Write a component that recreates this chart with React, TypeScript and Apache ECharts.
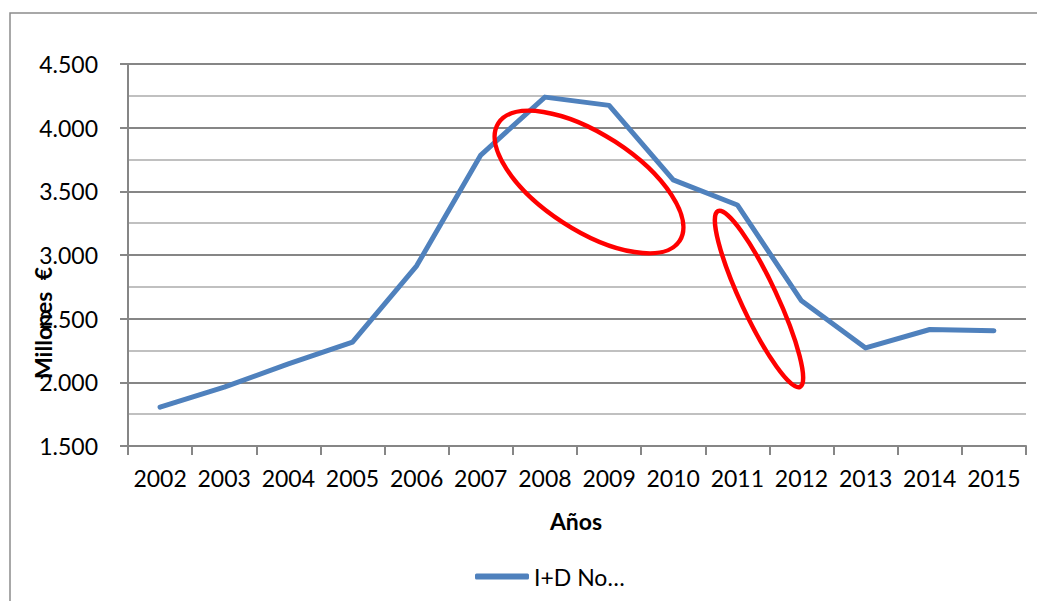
import React, { useEffect, useRef } from "react";
import * as echarts from "echarts";

const years = ["2002", "2003", "2004", "2005", "2006", "2007", "2008", "2009", "2010", "2011", "2012", "2013", "2014", "2015"];
const values = [1805, 1962, 2145, 2315, 2915, 3785, 4240, 4175, 3590, 3393, 2640, 2270, 2415, 2405];
const seriesName = "I+D No…";
const xTitle = "Años";
const yTitle = "Millones  €";

const FONT = "Lato, 'Open Sans', sans-serif";

export default function App() {
  const ref = useRef<HTMLDivElement>(null);
  useEffect(() => {
    if (!ref.current) return;
    const chart = echarts.init(ref.current, undefined, { renderer: "svg" });
    chart.setOption({
      animation: false,
      backgroundColor: "#ffffff",
      grid: { left: 128, right: 11, top: 64, bottom: 155, containLabel: false },
      xAxis: {
        type: "category",
        data: years,
        boundaryGap: true,
        axisLine: { lineStyle: { color: "#868686", width: 2 } },
        axisTick: { show: true, alignWithLabel: false, interval: 0, length: 9, lineStyle: { color: "#868686", width: 2 } },
        axisLabel: { color: "#000", fontFamily: FONT, fontSize: 23, margin: 20, interval: 0 },
        splitLine: { show: false },
      },
      yAxis: {
        type: "value",
        min: 1500,
        max: 4500,
        interval: 500,
        axisLine: { show: true, lineStyle: { color: "#868686", width: 2 } },
        axisTick: { show: true, length: 8, lineStyle: { color: "#868686", width: 2 } },
        axisLabel: {
          color: "#000",
          fontFamily: FONT,
          fontSize: 23,
          margin: 30,
          formatter: (v: number) => v.toLocaleString("de-DE"),
        },
        splitLine: { show: true, lineStyle: { color: "#868686", width: 2 } },
        minorTick: { show: false, splitNumber: 2 },
        minorSplitLine: { show: true, lineStyle: { color: "#c0c0c0", width: 2 } },
      },
      legend: {
        show: true,
        bottom: 8,
        left: 470,
        itemWidth: 54,
        itemHeight: 6,
        itemGap: 4,
        textStyle: { color: "#000", fontFamily: FONT, fontSize: 23 },
        data: [{ name: seriesName, icon: "roundRect" }],
      },
      series: [
        {
          name: seriesName,
          type: "line",
          data: values,
          symbol: "none",
          lineStyle: { color: "#4F81BD", width: 5, cap: "round", join: "round" },
          itemStyle: { color: "#4F81BD" },
        },
      ],
      graphic: [
        {
          type: "rect",
          shape: { x: 10, y: 13, width: 1200, height: 800 },
          style: { fill: "none", stroke: "#8c8c8c", lineWidth: 1.5 },
          silent: true,
        },
        {
          type: "text",
          x: 576,
          y: 521,
          style: { text: xTitle, fontFamily: FONT, fontSize: 23, fontWeight: "bold", fill: "#000", align: "center", verticalAlign: "middle" },
        },
        {
          type: "text",
          x: 43,
          y: 323,
          rotation: Math.PI / 2,
          style: { text: yTitle, fontFamily: FONT, fontSize: 23, fontWeight: "bold", fill: "#000", align: "center", verticalAlign: "middle" },
        },
        {
          type: "ellipse",
          x: 589,
          y: 182,
          rotation: (-33 * Math.PI) / 180,
          shape: { cx: 0, cy: 0, rx: 108, ry: 48 },
          style: { fill: "none", stroke: "#ff0000", lineWidth: 4.5 },
          z: 100,
        },
        {
          type: "ellipse",
          x: 759,
          y: 299,
          rotation: (-65 * Math.PI) / 180,
          shape: { cx: 0, cy: 0, rx: 97, ry: 18 },
          style: { fill: "none", stroke: "#ff0000", lineWidth: 4.5 },
          z: 100,
        },
      ],
    });
    return () => chart.dispose();
  }, []);
  return <div ref={ref} style={{ width: 1037, height: 601, position: "absolute", left: 0, top: 0 }} />;
}
